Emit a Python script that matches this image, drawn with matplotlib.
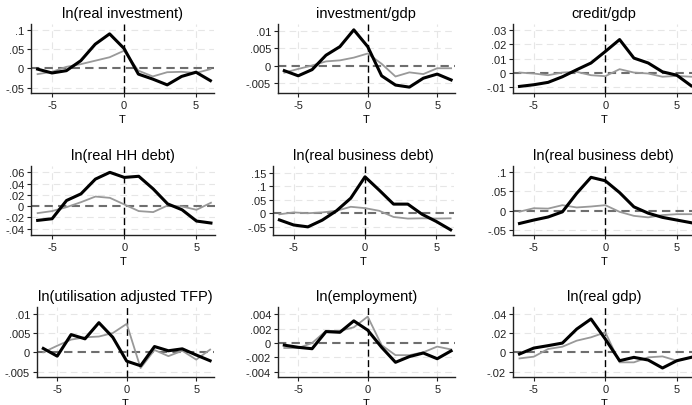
import matplotlib
matplotlib.use("Agg")
import matplotlib.pyplot as plt
import numpy as np

plt.rcParams["font.family"] = ["Liberation Sans", "DejaVu Sans"]

T = list(range(-6, 7))

titles = ["ln(real investment)", "investment/gdp", "credit/gdp",
          "ln(real HH debt)", "ln(real business debt)", "ln(real business debt)",
          "ln(utilisation adjusted TFP)", "ln(employment)", "ln(real gdp)"]

black_inv = [-0.002, -0.012, -0.006, 0.02, 0.063, 0.09, 0.052, -0.015, -0.028, -0.043, -0.021, -0.01, -0.032]
gray_inv = [-0.015, -0.009, 0.004, 0.011, 0.02, 0.029, 0.046, -0.006, -0.021, -0.01, -0.009, -0.012, -0.002]

black_invgdp = [-0.0015, -0.003, -0.0012, 0.003, 0.0055, 0.0104, 0.0055, -0.003, -0.0057, -0.0063, -0.0037, -0.0025, -0.0042]
gray_invgdp = [-0.0021, -0.001, 0.0, 0.0012, 0.0015, 0.0023, 0.0035, 0.0005, -0.0032, -0.002, -0.0025, -0.0008, -0.0008]

black_credit = [-0.0099, -0.0087, -0.007, -0.003, 0.002, 0.0068, 0.015, 0.0235, 0.0103, 0.0068, 0.0005, -0.0019, -0.0094]
gray_credit = [0.0, -0.0007, -0.0019, 0.0, 0.0005, -0.0019, -0.0026, 0.0024, 0.0, -0.0007, -0.003, -0.0024, -0.003]

black_hh = [-0.0253, -0.0224, 0.01, 0.0218, 0.048, 0.06, 0.051, 0.053, 0.0306, 0.004, -0.0065, -0.0265, -0.03]
gray_hh = [-0.0124, -0.0088, -0.0018, 0.007, 0.017, 0.0147, 0.003, -0.0088, -0.0106, 0.0012, -0.0006, -0.0065, 0.006]

black_bus1 = [-0.025, -0.044, -0.051, -0.026, 0.009, 0.056, 0.136, 0.086, 0.034, 0.034, -0.004, -0.031, -0.062]
gray_bus1 = [-0.004, 0.003, 0.0, 0.003, 0.009, 0.024, 0.019, 0.009, -0.014, -0.02, -0.019, -0.02, -0.019]

black_bus2 = [-0.034, -0.025, -0.017, -0.0035, 0.045, 0.087, 0.078, 0.047, 0.0096, -0.007, -0.018, -0.025, -0.032]
gray_bus2 = [-0.003, 0.006, 0.005, 0.014, 0.008, 0.0105, 0.014, -0.0035, -0.014, -0.018, -0.012, -0.0096, -0.0096]

black_tfp = [0.001, -0.001, 0.0046, 0.0035, 0.0077, 0.0039, -0.0023, -0.0035, 0.0015, 0.0004, 0.0009, -0.0007, -0.0022]
gray_tfp = [0.0, 0.0017, 0.0033, 0.0039, 0.0041, 0.005, 0.0074, -0.0041, 0.0006, -0.001, 0.0004, -0.0019, 0.0007]

black_emp = [-0.0003, -0.0006, -0.0008, 0.0016, 0.0015, 0.0031, 0.0018, -0.0006, -0.0027, -0.0019, -0.0014, -0.0022, -0.0011]
gray_emp = [-0.0007, -0.0007, 0.0, 0.0017, 0.0017, 0.0022, 0.0037, -0.0003, -0.0017, -0.0017, -0.0013, -0.0005, -0.0009]

black_gdp = [-0.0017, 0.0045, 0.007, 0.0097, 0.0243, 0.0348, 0.0139, -0.0087, -0.0052, -0.008, -0.0163, -0.0087, -0.0052]
gray_gdp = [-0.0063, -0.0045, 0.0035, 0.0059, 0.0122, 0.0157, 0.0209, -0.0104, -0.0104, -0.0052, -0.0042, -0.0087, -0.0052]

yticks = [[0.1, 0.05, 0, -0.05], [0.01, 0.005, 0, -0.005], [0.03, 0.02, 0.01, 0, -0.01],
          [0.06, 0.04, 0.02, 0, -0.02, -0.04], [0.15, 0.1, 0.05, 0, -0.05], [0.1, 0.05, 0, -0.05],
          [0.01, 0.005, 0, -0.005], [0.004, 0.002, 0, -0.002, -0.004], [0.04, 0.02, 0, -0.02]]
ylims = [(-0.065, 0.1157), (-0.0081, 0.0121), (-0.0148, 0.0346),
         (-0.0518, 0.0718), (-0.0825, 0.1775), (-0.065, 0.1175),
         (-0.0065, 0.0117), (-0.0048, 0.005), (-0.026, 0.047)]

blacks = [black_inv, black_invgdp, black_credit, black_hh, black_bus1, black_bus2, black_tfp, black_emp, black_gdp]
grays = [gray_inv, gray_invgdp, gray_credit, gray_hh, gray_bus1, gray_bus2, gray_tfp, gray_emp, gray_gdp]

# axes boxes in pixels: (x of T=0, px per unit), rows (top, bottom)
W, H = 692, 406
xpos = [(124.0, 14.4), (367.7, 13.9), (605.3, 14.3),
        (124.3, 14.44), (365.0, 14.27), (605.3, 14.3),
        (126.7, 13.9), (367.7, 13.9), (605.3, 14.3)]
rows = [(25, 94.3), (166.7, 236.3), (308.3, 378.3)]
xlo, xhi = -6.45, 6.25


def fmt(v):
    if v == 0:
        return "0"
    s = ("%g" % v)
    return s.replace("0.", ".")


fig = plt.figure(figsize=(W / 100, H / 100), dpi=100)
for i in range(9):
    x0, u = xpos[i]
    top, bot = rows[i // 3]
    left = x0 + xlo * u
    width = (xhi - xlo) * u
    ax = fig.add_axes([left / W, 1 - bot / H, width / W, (bot - top) / H])
    ax.set_xlim(xlo, xhi)
    ax.set_ylim(*ylims[i])
    for v in yticks[i]:
        if v != 0:
            ax.axhline(v, color="#e6e6e6", lw=0.8, ls=(0, (6, 4)), zorder=0)
    for v in [-5, 5]:
        ax.axvline(v, color="#e6e6e6", lw=0.8, ls=(0, (6, 4)), zorder=0)
    ax.axhline(0, color="#6e6e6e", lw=1.5, ls=(0, (4, 2.5)), zorder=1)
    ax.axvline(0, color="black", lw=1.0, ls=(0, (5, 2.5)), zorder=1)
    ax.plot(T, grays[i], color="#999999", lw=1.3, zorder=2, clip_on=False)
    ax.plot(T, blacks[i], color="black", lw=2.2, zorder=3, clip_on=False)
    ax.set_yticks(yticks[i])
    ax.set_yticklabels([fmt(v) for v in yticks[i]])
    ax.set_xticks([-5, 0, 5])
    ax.set_xticklabels(["-5", "0", "5"])
    for s in ["top", "right"]:
        ax.spines[s].set_visible(False)
    for s in ["left", "bottom"]:
        ax.spines[s].set_color("#222222")
        ax.spines[s].set_linewidth(1.0)
    ax.tick_params(direction="out", length=3, width=0.8, colors="#222222",
                   labelsize=8, pad=2)
    ax.set_xlabel("T", fontsize=8, labelpad=3)
    ax.set_title(titles[i], fontsize=10.5, pad=5)

fig.savefig("out.png", dpi=100)
